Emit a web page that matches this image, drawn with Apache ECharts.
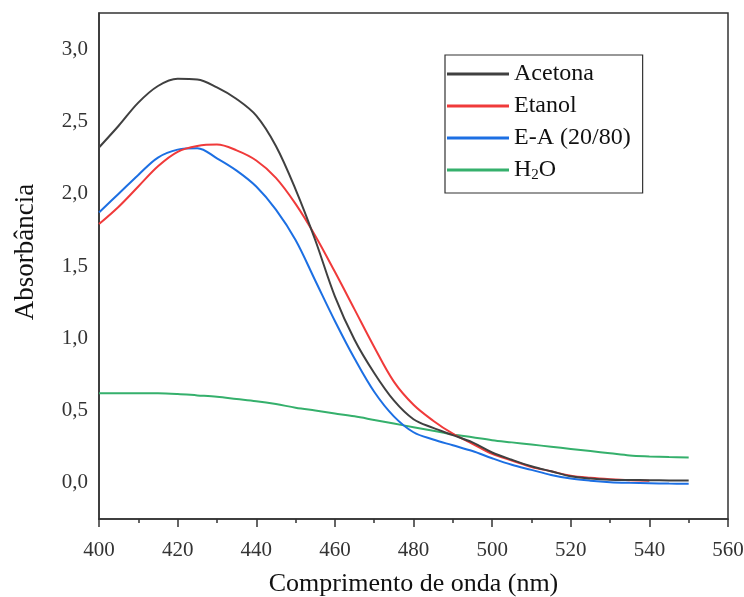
<!DOCTYPE html>
<html lang="pt">
<head>
	<meta charset="UTF-8">
	<title>Absorbância</title>
	<style>
		html, body { margin: 0; padding: 0; background: #fff; }
		#main { width: 744px; height: 597px; }
	</style>
	<script src="https://cdn.jsdelivr.net/npm/echarts@6/dist/echarts.min.js"></script>
</head>
<body>
	<div id="main"></div>
	<script>
		// comprimento de onda (nm)
		var wave = [400, 405, 410, 415, 420, 425, 430, 435, 440, 445, 450, 455, 460, 465, 470, 475,
			480, 485, 490, 495, 500, 505, 510, 515, 520, 525, 530, 535, 540, 545, 550];

		var acetona = [2.32, 2.47, 2.63, 2.745, 2.795, 2.79, 2.735, 2.655, 2.54, 2.33, 2.03, 1.68, 1.29, 0.99, 0.76, 0.57,
			0.44, 0.38, 0.33, 0.28, 0.21, 0.16, 0.115, 0.08, 0.045, 0.03, 0.022, 0.02, 0.018, 0.017, 0.016];
		var etanol = [1.79, 1.91, 2.05, 2.19, 2.29, 2.33, 2.34, 2.30, 2.23, 2.11, 1.93, 1.71, 1.46, 1.20, 0.94, 0.70,
			0.54, 0.43, 0.34, 0.27, 0.20, 0.155, 0.11, 0.08, 0.05, 0.035, 0.025, 0.018, 0.015];
		var ea = [1.87, 2.00, 2.13, 2.25, 2.305, 2.315, 2.245, 2.16, 2.05, 1.89, 1.68, 1.40, 1.12, 0.86, 0.63, 0.46,
			0.35, 0.30, 0.26, 0.22, 0.17, 0.125, 0.09, 0.055, 0.03, 0.015, 0.005, 0.0, -0.003, -0.005, -0.006];
		var agua = [0.62, 0.62, 0.62, 0.62, 0.615, 0.605, 0.595, 0.58, 0.565, 0.545, 0.52, 0.50, 0.48, 0.46, 0.435, 0.41,
			0.385, 0.36, 0.335, 0.315, 0.295, 0.28, 0.265, 0.25, 0.235, 0.22, 0.205, 0.19, 0.183, 0.178, 0.175];

		var nomes = ['Acetona', 'Etanol', 'E-A (20/80)', 'H2O'];
		var cores = ['#404040', '#f03a3a', '#1c6fe3', '#35b06c'];

		function pares(ys) {
			var out = [];
			for (var i = 0; i < ys.length; i++) out.push([wave[i], ys[i]]);
			return out;
		}

		var fonte = 'Liberation Serif';
		var chart = echarts.init(document.getElementById('main'));

		var series = [acetona, etanol, ea, agua].map(function (ys, i) {
			return {
				name: nomes[i],
				type: 'line',
				data: pares(ys),
				smooth: 0.35,
				showSymbol: false,
				symbol: 'none',
				lineStyle: { color: cores[i], width: 2 },
				itemStyle: { color: cores[i] },
				z: 10 - i
			};
		});

		var option = {
			animation: false,
			backgroundColor: '#fff',
			grid: {
				left: 99, right: 16, top: 13, bottom: 78,
				outerBoundsMode: 'none',
				show: true, borderColor: '#333', borderWidth: 1.5
			},
			legend: {
				orient: 'vertical',
				left: 445, top: 55,
				data: nomes,
				icon: 'rect',
				itemWidth: 62, itemHeight: 3,
				itemGap: 8,
				padding: [7, 12, 10, 2],
				borderColor: '#333', borderWidth: 1.2,
				backgroundColor: '#fff',
				formatter: function (n) { return n === 'H2O' ? 'H{sub|2}O' : n; },
				textStyle: {
					fontFamily: fonte, fontSize: 24, color: '#111', lineHeight: 24,
					rich: { sub: { fontFamily: fonte, fontSize: 15, color: '#111', padding: [11, 0, 0, 0] } }
				}
			},
			xAxis: {
				type: 'value',
				min: 400, max: 560, interval: 20,
				name: 'Comprimento de onda (nm)',
				nameLocation: 'middle', nameGap: 52,
				nameTextStyle: { fontFamily: fonte, fontSize: 26, color: '#111' },
				axisLine: { show: true, onZero: false, lineStyle: { color: '#333', width: 1.5 } },
				axisTick: { show: true, length: 8, lineStyle: { color: '#333', width: 1.5 } },
				minorTick: { show: true, splitNumber: 2, length: 4, lineStyle: { color: '#333', width: 1.5 } },
				axisLabel: { fontFamily: fonte, fontSize: 21, color: '#333', margin: 21 },
				splitLine: { show: false }
			},
			yAxis: {
				type: 'value',
				min: -0.25, max: 3.25, interval: 0.25,
				name: 'Absorbância',
				nameLocation: 'middle', nameGap: 60,
				nameTextStyle: { fontFamily: fonte, fontSize: 27, color: '#111', padding: [0, 0, 0, 28] },
				axisLine: { show: true, onZero: false, lineStyle: { color: '#333', width: 1.5 } },
				axisTick: { show: false },
				axisLabel: {
					fontFamily: fonte, fontSize: 21, color: '#333', margin: 11,
					formatter: function (v) {
						if (Math.abs(v * 2 - Math.round(v * 2)) > 1e-6) return '';
						return v.toFixed(1).replace('.', ',');
					}
				},
				splitLine: { show: false }
			},
			series: series
		};

		chart.setOption(option);
	</script>
</body>
</html>
